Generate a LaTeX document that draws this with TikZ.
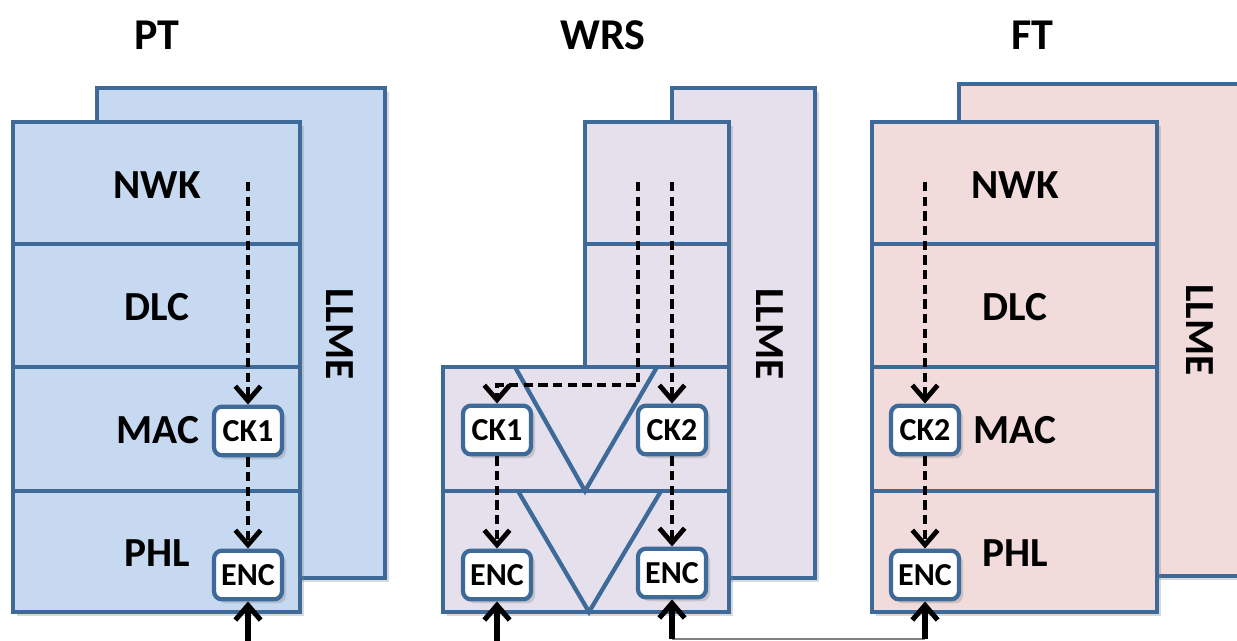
\documentclass[tikz,border=0pt]{standalone}
\usepackage{fontspec}
\setmainfont{Carlito}
\usetikzlibrary{arrows.meta,shadows}
\definecolor{edge}{RGB}{62,106,154}
\definecolor{ptfill}{RGB}{198,217,240}
\definecolor{wrsfill}{RGB}{229,224,236}
\definecolor{ftfill}{RGB}{242,220,219}
\begin{document}
\begin{tikzpicture}[x=0.75pt,y=-0.75pt,
 layer/.style={draw=edge,line width=3.2pt},
 shad/.style={drop shadow={opacity=0.3,shadow xshift=3pt,shadow yshift=-3pt}},
 lbl/.style={font=\fontsize{31}{32}\selectfont\bfseries},
 ttl/.style={font=\fontsize{33}{35}\selectfont\bfseries},
 vlbl/.style={font=\fontsize{31}{32}\selectfont\bfseries,rotate=-90},
 keybox/.style={draw=edge,line width=3.2pt,fill=white,rounded corners=6pt,minimum width=51pt,minimum height=36.5pt,inner sep=0pt,font=\fontsize{24}{26}\selectfont\bfseries,shad},
 dasharrow/.style={line width=3.6pt,dash pattern=on 7pt off 4pt,-{Straight Barb[length=11pt,width=19pt,line width=3.6pt]}},
 solidarrow/.style={line width=3.8pt,-{Straight Barb[length=11pt,width=19pt,line width=3.8pt]}},
]
\useasboundingbox (0,0) rectangle (1237,641);
\begin{scope}
\clip (0,0) rectangle (1237,641);

% ---------- titles ----------
\node[ttl] (tpt) at (157,35) {PT};
\node[ttl] (twrs) at (603,35) {WRS};
\node[ttl] (tft) at (1032,35) {FT};

% ---------- PT ----------
\filldraw[layer,fill=ptfill,shad] (97,88) rectangle (385,578);
\node[vlbl] (ptllme) at (340,334) {LLME};
\filldraw[layer,fill=ptfill,shad] (13,122) rectangle (300,612);
\draw[layer] (13,244) -- (300,244);
\draw[layer] (13,367) -- (300,367);
\draw[layer] (13,491) -- (300,491);
\node[lbl] (ptnwk) at (157,185) {NWK};
\node[lbl] (ptdlc) at (157,307) {DLC};
\node[lbl] (ptmac) at (158,430) {MAC};
\node[lbl] (ptphl) at (157,553) {PHL};
\node[keybox] (ptck) at (248,431) {CK1};
\node[keybox] (ptenc) at (248,575) {ENC};

% ---------- WRS ----------
\filldraw[layer,fill=wrsfill,shad] (672,88) rectangle (815,578);
\node[vlbl] (wllme) at (770,334) {LLME};
\filldraw[layer,fill=wrsfill,shad] (585,122) rectangle (729,367);
\draw[layer] (585,244) -- (729,244);
\filldraw[layer,fill=wrsfill,shad] (443,367) rectangle (729,612);
\draw[layer] (443,491) -- (729,491);
\draw[layer] (515,367) -- (585,491) -- (657,367);
\draw[layer] (518,491) -- (589,612) -- (661,491);
\node[keybox] (wck1) at (497,430) {CK1};
\node[keybox] (wck2) at (672,430) {CK2};
\node[keybox] (wenc1) at (497,575) {ENC};
\node[keybox] (wenc2) at (672,573) {ENC};

% ---------- FT ----------
\filldraw[layer,fill=ftfill,shad] (959,84) rectangle (1260,576);
\node[vlbl] (ftllme) at (1200,330) {LLME};
\filldraw[layer,fill=ftfill,shad] (872,122) rectangle (1157,612);
\draw[layer] (872,244) -- (1157,244);
\draw[layer] (872,367) -- (1157,367);
\draw[layer] (872,491) -- (1157,491);
\node[lbl] (ftnwk) at (1015,185) {NWK};
\node[lbl] (ftdlc) at (1015,307) {DLC};
\node[lbl] (ftmac) at (1015,430) {MAC};
\node[lbl] (ftphl) at (1015,553) {PHL};
\node[keybox] (ftck) at (925,430) {CK2};
\node[keybox] (ftenc) at (925,575) {ENC};

% ---------- dashed key flows ----------
\coordinate (ptsrc) at (248,182);
\coordinate (wsrc1) at (638,182);
\coordinate (wturn) at (638,385);
\coordinate (wsrc2) at (672,182);
\coordinate (ftsrc) at (925,182);
\draw[dasharrow] (ptsrc) -- (ptck.north);
\draw[dasharrow] (ptck.south) -- (ptenc.north);
\draw[dasharrow] (wsrc1) -- (wturn) -| (wck1.north);
\draw[dasharrow] (wsrc2) -- (wck2.north);
\draw[dasharrow] (wck1.south) -- (wenc1.north);
\draw[dasharrow] (wck2.south) -- (wenc2.north);
\draw[dasharrow] (ftsrc) -- (ftck.north);
\draw[dasharrow] (ftck.south) -- (ftenc.north);

% ---------- bottom links ----------
\coordinate (b1) at (248,645);
\coordinate (b2) at (497,645);
\coordinate (b3) at (672,639);
\coordinate (b4) at (925,639);
\draw[gray,line width=1pt] (b3) -- (b4);
\draw[solidarrow] (b1) -- (ptenc.south);
\draw[solidarrow] (b2) -- (wenc1.south);
\draw[solidarrow] (b3) -- (wenc2.south);
\draw[solidarrow] (b4) -- (ftenc.south);
\end{scope}
\end{tikzpicture}
\end{document}
